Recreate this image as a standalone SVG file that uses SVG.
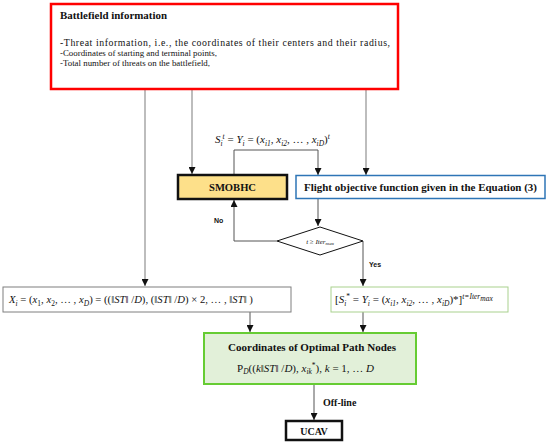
<svg xmlns="http://www.w3.org/2000/svg" width="550" height="446" viewBox="0 0 550 446">
<style>
  .t { font-family: "Liberation Serif", "DejaVu Serif", serif; font-size: 10px; fill: #111; }
  .b { font-weight: bold; }
  .bl { font-size: 9.2px; }
  .m { font-family: "Liberation Serif", "DejaVu Serif", serif; font-style: italic; font-size: 11px; fill: #111; }
  .r { font-style: normal; }
  .s { font-size: 7.5px; }
  .lbl { font-family: "Liberation Sans", Arial, sans-serif; font-weight: bold; font-size: 7px; fill: #111; }
  .lg { stroke: #9a9a9a; stroke-width: 1.3; fill: none; }
  .ld { stroke: #555; stroke-width: 1; fill: none; }
</style>
<defs>
  <marker id="ah" viewBox="0 0 8 8" refX="8" refY="4" markerWidth="7" markerHeight="7" markerUnits="userSpaceOnUse" orient="auto">
    <path d="M0,0 L8,4 L0,8 z" fill="#111"/>
  </marker>
</defs>
<rect width="550" height="446" fill="#fff"/>

<g id="connectors">
  <path class="lg" d="M145,89 V286" marker-end="url(#ah)"/>
  <path class="lg" d="M192,89 V174" marker-end="url(#ah)"/>
  <path class="lg" d="M366,89 V175" marker-end="url(#ah)"/>
  <path class="ld" d="M234,174 V150 H318 V175" marker-end="url(#ah)"/>
  <path class="ld" d="M318,199 V226" marker-end="url(#ah)"/>
  <path class="ld" d="M277,241 H234 V200" marker-end="url(#ah)"/>
  <path class="ld" d="M363,241 V286" marker-end="url(#ah)"/>
  <path class="ld" d="M250,312 V332" marker-end="url(#ah)"/>
  <path class="ld" d="M363,312 V332" marker-end="url(#ah)"/>
  <path class="ld" d="M314,385 V420" marker-end="url(#ah)"/>
  <text class="m" x="215" y="143">S<tspan class="s" dy="2.5">i</tspan><tspan class="s" dy="-7">t</tspan><tspan dy="4.5" class="r"> = </tspan>Y<tspan class="s" dy="2.5">i</tspan><tspan class="r" dy="-2.5"> = (</tspan>x<tspan class="s" dy="2.5">i1</tspan><tspan class="r" dy="-2.5">, </tspan>x<tspan class="s" dy="2.5">i2</tspan><tspan class="r" dy="-2.5">, … , </tspan>x<tspan class="s" dy="2.5">iD</tspan><tspan class="r" dy="-2.5">)</tspan><tspan class="s" dy="-4">t</tspan></text>
  <text class="lbl" x="214" y="223">No</text>
  <text class="lbl" x="369" y="267">Yes</text>
  <text class="t b" x="323" y="406">Off-line</text>
</g>

<g id="battlefield">
  <rect x="51" y="4" width="347" height="85" fill="#fff" stroke="#ff0000" stroke-width="2.5"/>
  <text class="t b" x="60" y="19" textLength="107" lengthAdjust="spacingAndGlyphs">Battlefield information</text>
  <text class="t" x="60" y="45.5" style="font-size:9.8px" textLength="330" lengthAdjust="spacing">-Threat information, i.e., the coordinates of their centers and their radius,</text>
  <text class="t bl" x="60" y="55.5" textLength="157" lengthAdjust="spacingAndGlyphs">-Coordinates of starting and terminal points,</text>
  <text class="t bl" x="60" y="65.5" textLength="150" lengthAdjust="spacingAndGlyphs">-Total number of threats on the battlefield,</text>
</g>

<g id="smobhc">
  <rect x="178" y="175" width="109" height="24" fill="#fde08a" stroke="#111" stroke-width="2.5"/>
  <text class="t b" x="232.5" y="190.5" text-anchor="middle" textLength="47" lengthAdjust="spacingAndGlyphs">SMOBHC</text>
</g>

<g id="flight">
  <rect x="296" y="175.5" width="249" height="23" fill="#fff" stroke="#2e75b6" stroke-width="1.5"/>
  <text class="t b" x="420.5" y="190.5" text-anchor="middle" textLength="233" lengthAdjust="spacingAndGlyphs">Flight objective function given in the Equation (3)</text>
</g>

<g id="decision">
  <path d="M320,227 L363,241 L320,255 L277,241 Z" fill="#fff" stroke="#111" stroke-width="1"/>
  <text class="m" x="320" y="243.5" text-anchor="middle" style="font-size:7px">t ≥ Iter<tspan style="font-size:5px" dy="1.5">max</tspan></text>
</g>

<g id="initial">
  <rect x="3" y="287" width="288" height="25" fill="#fff" stroke="#7f7f7f" stroke-width="1"/>
  <text class="m" x="9" y="303" style="font-size:10.7px">X<tspan class="s" dy="2.5">i</tspan><tspan class="r" dy="-2.5"> = (</tspan>x<tspan class="s r" dy="2.5">1</tspan><tspan class="r" dy="-2.5">, </tspan>x<tspan class="s r" dy="2.5">2</tspan><tspan class="r" dy="-2.5">, … , </tspan>x<tspan class="s" dy="2.5">D</tspan><tspan class="r" dy="-2.5">) = ((‖</tspan>ST<tspan class="r">‖ /</tspan>D<tspan class="r">), (‖</tspan>ST<tspan class="r">‖ /</tspan>D<tspan class="r">) × 2, … , ‖</tspan>ST<tspan class="r">‖ )</tspan></text>
</g>

<g id="best">
  <rect x="331" y="287" width="177" height="25" fill="#fff" stroke="#a9d18e" stroke-width="1"/>
  <text class="m" x="335" y="303"><tspan class="r">[</tspan>S<tspan class="s" dy="2.5">i</tspan><tspan class="s r" dy="-6.5">*</tspan><tspan class="r" dy="4"> = </tspan>Y<tspan class="s" dy="2.5">i</tspan><tspan class="r" dy="-2.5"> = (</tspan>x<tspan class="s" dy="2.5">i1</tspan><tspan class="r" dy="-2.5">, </tspan>x<tspan class="s" dy="2.5">i2</tspan><tspan class="r" dy="-2.5">, … , </tspan>x<tspan class="s" dy="2.5">iD</tspan><tspan class="r" dy="-2.5">)*]</tspan><tspan class="s" dy="-4">t=Iter</tspan><tspan class="s" dy="1.5">max</tspan></text>
</g>

<g id="optimal">
  <rect x="204" y="333" width="212" height="51" fill="#e2f0d9" stroke="#66cc33" stroke-width="2"/>
  <text class="t b" x="312" y="350.5" text-anchor="middle" textLength="168" lengthAdjust="spacingAndGlyphs">Coordinates of Optimal Path Nodes</text>
  <text class="m" x="237" y="371.5"><tspan class="r">P</tspan><tspan class="s" dy="2.5">D</tspan><tspan class="r" dy="-2.5">((</tspan>k<tspan class="r">‖</tspan>ST<tspan class="r">‖ /</tspan>D<tspan class="r">), </tspan>x<tspan class="s" dy="2.5">ik</tspan><tspan class="s r" dy="-6.5">*</tspan><tspan class="r" dy="4">),   </tspan>k<tspan class="r">  =  1, … </tspan>D</text>
</g>

<g id="ucav">
  <rect x="286" y="421" width="56" height="19" fill="#fff" stroke="#111" stroke-width="2.5"/>
  <text class="t b" x="314" y="434.5" text-anchor="middle">UCAV</text>
</g>
</svg>
